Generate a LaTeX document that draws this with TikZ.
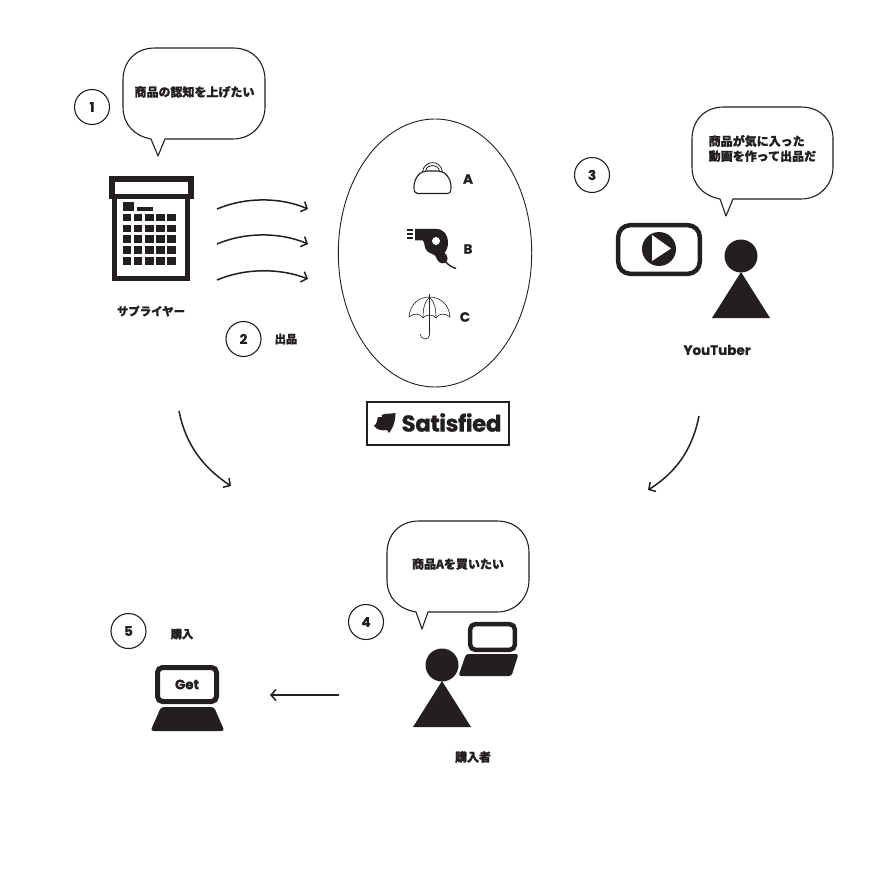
\documentclass[tikz,border=0pt]{standalone}
\usepackage{fontspec}
\usetikzlibrary{arrows.meta,calc}
\newfontfamily\jpf[BoldFeatures={FakeBold=1.2}]{Noto Sans CJK JP}
\newfontfamily\latf[BoldFeatures={FakeBold=0.8}]{Poppins}
\definecolor{ink}{HTML}{231F20}
\tikzset{
  bubble/.style={draw=ink,line width=1.1pt,fill=white,line join=round},
  numring/.style={circle,draw=ink,line width=1.1pt,minimum size=35pt,inner sep=0pt,font=\latf\bfseries\fontsize{13.5}{13.5}\selectfont,text=ink},
  jptext/.style={inner sep=0pt,text=ink,font=\jpf\bfseries\fontsize{12}{15}\selectfont},
  lattext/.style={inner sep=0pt,text=ink,font=\latf\bfseries\fontsize{13.5}{13.5}\selectfont},
  flow/.style={draw=ink,line width=1.5pt,-{Straight Barb[length=5pt,width=11pt,line width=1.5pt]}},
  solid ink/.style={fill=ink,draw=none},
  thinline/.style={draw=ink,line width=.6pt,fill=none,line join=round},
}
\newcommand{\speech}[7]{% x1,y1,x2,y2,tailL,tailR,tip-x ; tip y = y2+17
  \path[bubble] (#5,#4) -- (#7,#4+17) -- (#6,#4) -- (#3-32,#4)
    .. controls (#3-12,#4) and (#3,#4-16) .. (#3,#4-32) -- (#3,#2+32)
    .. controls (#3,#2+14) and (#3-12,#2) .. (#3-32,#2) -- (#1+32,#2)
    .. controls (#1+12,#2) and (#1,#2+14) .. (#1,#2+32) -- (#1,#4-32)
    .. controls (#1,#4-14) and (#1+12,#4-3) .. (#5,#4) -- cycle;}
\newcommand{\person}[2]{%
  \fill[ink] (#1,#2) circle[radius=16.5];
  \fill[ink] (#1,#2+16) -- (#1+29,#2+62) -- (#1-29,#2+62) -- cycle;}
\begin{document}
\begin{tikzpicture}[x=1pt,y=-1pt]
\useasboundingbox (0,0) rectangle (890,890);
\fill[white] (0,0) rectangle (890,890);

% speech bubbles
\speech{123}{48}{265}{139}{151}{165}{158}
\speech{692}{107}{833}{199}{720}{733}{726}
\speech{387}{521}{529}{612}{416}{428}{422}
\node[jptext] (say1) at (194.5,92) {商品の認知を上げたい};
\node[jptext,align=left,anchor=west] (say3) at (708.5,148.5) {商品が気に入った\\動画を作って出品だ};
\node[jptext] (say4) at (458,564) {商品Aを買いたい};

% step numbers
\node[numring] (n1) at (92,107) {1};
\node[numring] (n2) at (243.5,339) {2};
\node[numring] (n3) at (592,175) {3};
\node[numring] (n4) at (366,622) {4};
\node[numring] (n5) at (128.5,631) {5};

% supplier building
\draw[ink,line width=5pt,miter limit=10] (114.5,199) -- (114.5,278.5) -- (187.5,278.5) -- (187.5,199);
\draw[ink,line width=5.5pt] (111.8,179) rectangle (191.2,196.5);
\fill[ink] (123.3,202) rectangle (134,211);
\fill[ink] (136.7,207) rectangle (152.7,211);
\foreach \r in {0,...,4}
  \foreach \c in {0,...,4}
    \fill[ink] ({123+11.1*\c},{213.8+10.8*\r}) rectangle +(8.3,7.6);
\node[jptext,font=\jpf\bfseries\fontsize{11.4}{12}\selectfont] (supplier) at (151,311) {サプライヤー};
\node[jptext,font=\jpf\bfseries\fontsize{11.3}{12}\selectfont] (listing) at (286,339) {出品};

% listing arrows
\coordinate (a1s) at (217,209); \coordinate (a1e) at (308,209);
\coordinate (a2s) at (217,244); \coordinate (a2e) at (308,244);
\coordinate (a3s) at (217,280); \coordinate (a3e) at (308,279);
\draw[flow] (a1s) .. controls (245,197) and (280,197) .. (a1e);
\draw[flow] (a2s) .. controls (245,232) and (280,232) .. (a2e);
\draw[flow] (a3s) .. controls (245,268) and (280,268) .. (a3e);

% marketplace ellipse
\draw[ink,line width=.9pt] (435,253) ellipse[x radius=96.7,y radius=134];
% bag
\path[draw=ink,line width=1.1pt,line join=round] (417.5,193.5) .. controls (414.5,193.5) and (414,191) .. (414,187)
  .. controls (414,178) and (420,171) .. (427,171) -- (438,171) .. controls (445,171) and (451,178) .. (451,187)
  .. controls (451,191) and (450.5,193.5) .. (447,193.5) -- cycle;
\draw[ink,line width=.8pt] (422.5,172) .. controls (424,159.5) and (441,159.5) .. (442.5,172);
\draw[ink,line width=.8pt] (425.5,171) .. controls (427,163.5) and (438,163.5) .. (439.5,171);
\node[lattext] (la) at (468,179) {A};
% dryer
\path[solid ink] (415,229) -- (436,229) .. controls (444,229) and (448,235) .. (448,243)
  .. controls (448,248) and (446,251) .. (444.5,253) .. controls (448,255) and (449,261) .. (445,263)
  .. controls (440,265) and (437,260) .. (436,257) .. controls (435,254) and (430,254) .. (427,251)
  .. controls (424,248) and (425,243) .. (423,240.5) -- (415,240.5) -- cycle;
\fill[white] (436,241) circle[radius=4];
\draw[ink,line width=1.4pt] (445,261) .. controls (449,266) and (452,267) .. (456,268.5);
\foreach \y in {230,234,238} \fill[ink] (407,\y-.9) rectangle (413,\y+.9);
\node[lattext] (lb) at (468,249) {B};
% umbrella
\draw[thinline] (409,317) .. controls (410,304) and (419,297) .. (429.5,297) .. controls (440,297) and (449,304) .. (450,317)
  .. controls (446,313) and (439,313) .. (436,318) .. controls (433,314) and (426,314) .. (423,318)
  .. controls (420,313) and (413,313) .. (409,317) -- cycle;
\draw[thinline] (429.5,297) .. controls (424,302) and (423,310) .. (423,318);
\draw[thinline] (429.5,297) .. controls (435,302) and (436,310) .. (436,318);
\draw[thinline] (429.5,294) -- (429.5,335) .. controls (429.5,340.5) and (420.5,340.5) .. (420.5,334);
\node[lattext] (lc) at (465,317) {C};

% Satisfied logo
\draw[ink,line width=2pt] (367,402) rectangle (508.5,444.5);
\path[solid ink] (374,426) .. controls (377,424) and (377,420) .. (378,417) -- (382,417) -- (381.5,415) .. controls (386,413) and (391,414) .. (395.5,413)
  .. controls (395.5,419) and (394,426) .. (391,430) -- (389,433) -- (387,430) .. controls (382,431) and (377,430) .. (374,426) -- cycle;
\node[inner sep=0pt,text=ink,font=\latf\bfseries\fontsize{23}{20}\selectfont] (logo) at (451.5,422.5) {\addfontfeatures{LetterSpace=-2}Satisfied};

% YouTuber
\draw[ink,line width=4.5pt,rounded corners=12pt] (618.2,225.2) rectangle (699.8,273.8);
\fill[ink] (659,249) circle[radius=17];
\fill[white] (652,235) -- (671,248.5) -- (652,261) -- cycle;
\person{741}{256}
\node[lattext] (youtuber) at (717,350) {YouTuber};

% buyer
\person{442}{665}
\draw[ink,line width=4.5pt,rounded corners=5pt] (470.2,624.2) rectangle (514.8,649.8);
\path[solid ink,rounded corners=2.5pt] (466,654) -- (518.5,654) -- (511.5,676) -- (458.5,676) -- cycle;
\node[jptext] (buyer) at (473,757) {購入者};

% purchase
\node[jptext,font=\jpf\bfseries\fontsize{11.3}{12}\selectfont] (buy) at (182,634) {購入};
\draw[ink,line width=5pt,rounded corners=5pt] (157.5,667.5) rectangle (216.5,701.5);
\path[solid ink,rounded corners=3pt] (161,707) -- (214,707) -- (224.5,731) -- (150.5,731) -- cycle;
\node[lattext] (get) at (187,684.5) {Get};

% flow arrows
\coordinate (c1s) at (179,411); \coordinate (c1e) at (231,486);
\coordinate (c2s) at (699,416); \coordinate (c2e) at (648,490);
\coordinate (c3s) at (339,695); \coordinate (c3e) at (270,695);
\draw[flow] (c1s) .. controls (186,446) and (204,468) .. (c1e);
\draw[flow] (c2s) .. controls (692,451) and (675,473) .. (c2e);
\draw[flow,line width=1.2pt] (c3s) -- (c3e);
\end{tikzpicture}
\end{document}
